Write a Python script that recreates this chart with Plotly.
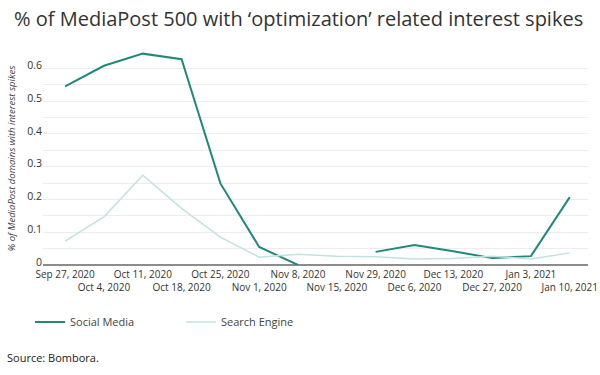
import plotly.graph_objects as go

categories = ["Sep 27, 2020", "Oct 4, 2020", "Oct 11, 2020", "Oct 18, 2020", "Oct 25, 2020",
              "Nov 1, 2020", "Nov 8, 2020", "Nov 15, 2020", "Nov 29, 2020", "Dec 6, 2020",
              "Dec 13, 2020", "Dec 27, 2020", "Jan 3, 2021", "Jan 10, 2021"]
social_media = [0.545, 0.608, 0.645, 0.628, 0.249, 0.055, 0.0, None, 0.04, 0.061,
                0.042, 0.021, 0.027, 0.207]
search_engine = [0.073, 0.147, 0.274, 0.173, 0.085, 0.024, 0.033, 0.027, 0.025, 0.018,
                 0.02, 0.027, 0.018, 0.037]
tick_text = [c if i % 2 == 0 else "<br>" + c for i, c in enumerate(categories)]

FONT = "Open Sans"
W, H = 600, 375
L, R, T, B = 43, 12, 52, 110
pw = W - L - R
ph = H - T - B

fig = go.Figure()
fig.add_trace(go.Scatter(x=categories, y=social_media, mode="lines", name="Social Media",
                         line=dict(color="#1f8a7a", width=2), connectgaps=False))
fig.add_trace(go.Scatter(x=categories, y=search_engine, mode="lines", name="Search Engine",
                         line=dict(color="#bfe3df", width=1.5)))

fig.update_layout(
    width=W, height=H,
    margin=dict(l=L, r=R, t=T, b=B, autoexpand=False),
    paper_bgcolor="white", plot_bgcolor="white",
    font=dict(family=FONT, color="#333333", size=11),
    title=dict(text="% of MediaPost 500 with ‘optimization’ related interest spikes",
               x=14 / W, xanchor="left", xref="container",
               y=1 - 19 / H, yanchor="middle", yref="container",
               font=dict(family=FONT, size=20, color="#333333")),
    showlegend=True,
    legend=dict(orientation="h", x=(30 - L) / pw, xanchor="left",
                y=-(322 - (T + ph)) / ph, yanchor="middle",
                entrywidth=106, entrywidthmode="pixels",
                font=dict(family=FONT, size=11, color="#444444")),
    xaxis=dict(type="category", range=[-0.57, 13.47], tickmode="array",
               tickvals=categories, ticktext=tick_text, showgrid=False,
               showline=False, zeroline=False, ticks="", tickangle=0, automargin=False,
               ticklabelstandoff=2,
               tickfont=dict(family=FONT, size=10, color="#333333")),
    yaxis=dict(range=[0, 0.65], tickvals=[0, 0.1, 0.2, 0.3, 0.4, 0.5, 0.6],
               ticktext=["0", "0.1", "0.2", "0.3", "0.4", "0.5", "0.6"],
               showgrid=True, gridcolor="#ededed", gridwidth=1, automargin=False,
               minor=dict(tickvals=[0.05, 0.15, 0.25, 0.35, 0.45, 0.55, 0.65],
                          showgrid=True, gridcolor="#ededed", gridwidth=1),
               zeroline=True, zerolinecolor="#8c8c8c", zerolinewidth=2,
               ticks="", ticklen=0, ticklabelshift=-3,
               title=dict(text="<i>% of MediaPost domains with interest spikes</i>",
                          font=dict(family=FONT, size=9.5, color="#444444"), standoff=9),
               tickfont=dict(family=FONT, size=10.5, color="#333333")),
    annotations=[dict(text="Source: Bombora.", xref="paper", yref="paper",
                      x=(5 - L) / pw, xanchor="left",
                      y=-(357 - (T + ph)) / ph, yanchor="middle",
                      showarrow=False, font=dict(family=FONT, size=11, color="#222222"))],
)
fig.write_html("out.html", config={"displayModeBar": False})

with open("out.html", "r", encoding="utf-8") as f:
    html = f.read()
html = html.replace("<head>", "<head><style>html,body{margin:0;padding:0;overflow:hidden;}</style>", 1)
with open("out.html", "w", encoding="utf-8") as f:
    f.write(html)
